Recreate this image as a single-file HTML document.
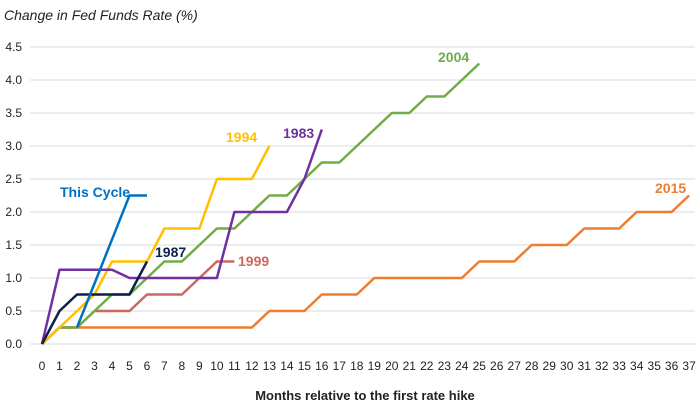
<!DOCTYPE html><html><head><style>body{margin:0;background:#fff}svg{display:block;font-family:"Liberation Sans Narrow","Liberation Sans",sans-serif}</style></head><body>
<svg width="700" height="406" xmlns="http://www.w3.org/2000/svg">
<text x="4" y="20" font-size="14" font-style="italic" fill="#222">Change in Fed Funds Rate (%)</text>
<g stroke="#d9d9d9" stroke-width="1">
<line x1="30" x2="695" y1="344" y2="344"/><line x1="30" x2="695" y1="311" y2="311"/><line x1="30" x2="695" y1="278" y2="278"/><line x1="30" x2="695" y1="245" y2="245"/><line x1="30" x2="695" y1="212" y2="212"/><line x1="30" x2="695" y1="179" y2="179"/><line x1="30" x2="695" y1="146" y2="146"/><line x1="30" x2="695" y1="113" y2="113"/><line x1="30" x2="695" y1="80" y2="80"/><line x1="30" x2="695" y1="47" y2="47"/>
</g>
<g font-size="12" fill="#222" text-anchor="end">
<text x="22" y="348">0.0</text><text x="22" y="315">0.5</text><text x="22" y="282">1.0</text><text x="22" y="249">1.5</text><text x="22" y="216">2.0</text><text x="22" y="183">2.5</text><text x="22" y="150">3.0</text><text x="22" y="117">3.5</text><text x="22" y="84">4.0</text><text x="22" y="51">4.5</text>
</g>
<g font-size="12" fill="#222" text-anchor="middle">
<text x="42" y="370">0</text><text x="59.5" y="370">1</text><text x="77" y="370">2</text><text x="94.5" y="370">3</text><text x="112" y="370">4</text><text x="129.5" y="370">5</text><text x="147" y="370">6</text><text x="164.4" y="370">7</text><text x="181.9" y="370">8</text><text x="199.4" y="370">9</text><text x="216.9" y="370">10</text><text x="234.4" y="370">11</text><text x="251.9" y="370">12</text><text x="269.4" y="370">13</text><text x="286.9" y="370">14</text><text x="304.4" y="370">15</text><text x="321.8" y="370">16</text><text x="339.3" y="370">17</text><text x="356.8" y="370">18</text><text x="374.3" y="370">19</text><text x="391.8" y="370">20</text><text x="409.3" y="370">21</text><text x="426.8" y="370">22</text><text x="444.3" y="370">23</text><text x="461.8" y="370">24</text><text x="479.3" y="370">25</text><text x="496.7" y="370">26</text><text x="514.2" y="370">27</text><text x="531.7" y="370">28</text><text x="549.2" y="370">29</text><text x="566.7" y="370">30</text><text x="584.2" y="370">31</text><text x="601.7" y="370">32</text><text x="619.2" y="370">33</text><text x="636.7" y="370">34</text><text x="654.2" y="370">35</text><text x="671.6" y="370">36</text><text x="689.1" y="370">37</text>
</g>
<text x="365" y="400" font-size="13" font-weight="bold" text-anchor="middle" fill="#222">Months relative to the first rate hike</text>
<g fill="none" stroke-width="2.5" stroke-linejoin="round">
<polyline stroke="#ed7d31" points="42,344 59.5,327.5 251.9,327.5 269.4,311 304.4,311 321.8,294.5 356.8,294.5 374.3,278 461.8,278 479.3,261.5 514.2,261.5 531.7,245 566.7,245 584.2,228.5 619.2,228.5 636.7,212 671.6,212 689.1,195.5"/>
<polyline stroke="#c9695f" points="42,344 59.5,327.5 77,327.5 94.5,311 129.5,311 147,294.5 181.9,294.5 199.4,278 216.9,261.5 234.4,261.5"/>
<polyline stroke="#70ad47" points="42,344 59.5,327.5 77,327.5 94.5,311 112,294.5 129.5,294.5 147,278 164.4,261.5 181.9,261.5 199.4,245 216.9,228.5 234.4,228.5 251.9,212 269.4,195.5 286.9,195.5 304.4,179 321.8,162.5 339.3,162.5 356.8,146 374.3,129.5 391.8,113 409.3,113 426.8,96.5 444.3,96.5 461.8,80 479.3,63.5"/>
<polyline stroke="#ffc000" points="42,344 59.5,327.5 77,311 94.5,294.5 112,261.5 147,261.5 164.4,228.5 199.4,228.5 216.9,179 251.9,179 269.4,146"/>
<polyline stroke="#7030a0" points="42,344 59.5,269.75 112,269.75 129.5,278 216.9,278 234.4,212 286.9,212 304.4,179 321.8,129.5"/>
<polyline stroke="#0d1f4f" points="42,344 59.5,311 77,294.5 129.5,294.5 147,261.5"/>
<polyline stroke="#0070c0" points="77,327.5 129.5,195.5 147,195.5"/>
</g>
<g font-size="14" font-weight="bold">
<text x="60" y="197" fill="#0070c0">This Cycle</text>
<text x="155" y="257" fill="#0d1f4f">1987</text>
<text x="226" y="142" fill="#ffc000">1994</text>
<text x="283" y="138" fill="#7030a0">1983</text>
<text x="438" y="62" fill="#70ad47">2004</text>
<text x="238" y="266" fill="#c9695f">1999</text>
<text x="655" y="193" fill="#ed7d31">2015</text>
</g>
</svg></body></html>
